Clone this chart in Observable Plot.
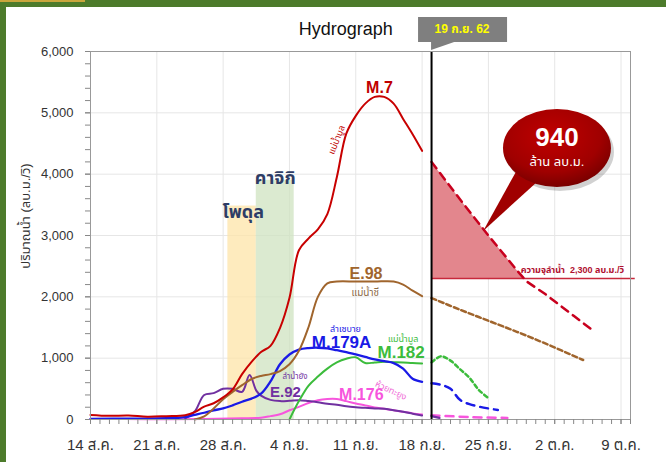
<!DOCTYPE html>
<html><head><meta charset="utf-8">
<script src="https://cdn.jsdelivr.net/npm/d3@7"></script>
<script src="https://cdn.jsdelivr.net/npm/@observablehq/plot@0.6"></script>
<style>
body{margin:0;background:#fff;}
#wrap{position:relative;width:666px;height:462px;overflow:hidden;background:#fff;}
#wrap svg{position:absolute;left:0;top:0;}
.bl{position:absolute;left:0;top:0;width:6px;height:462px;background:#4d7b2b;}
.bt{position:absolute;left:0;top:0;width:666px;height:7px;background:#4d7b2b;}
.bg{position:absolute;left:0;top:0;width:85px;height:2px;background:#c9a63c;}
</style></head><body><div id="wrap"></div>
<script>
// ---------- data ----------
const tickDates = ["08-14","08-21","08-28","09-04","09-11","09-18","09-25","10-02","10-09"];
const tickLabels = ["14 ส.ค.","21 ส.ค.","28 ส.ค.","4 ก.ย.","11 ก.ย.","18 ก.ย.","25 ก.ย.","2 ต.ค.","9 ต.ค."];
const yTicks = [0,1000,2000,3000,4000,5000,6000];
const todayDate = "09-19";
const capacity = 2300;

const m7Obs = [["08-14",75],["08-16",60],["08-18",65],["08-20",45],["08-22",55],["08-24",70],["08-25",120],["08-26",210],["08-27",265],["08-28",360],["08-29",490],["08-30",740],["08-31",940],["09-01",1100],["09-02",1200],["09-03",1490],["09-04",1980],["09-05",2760],["09-06",2950],["09-07",3100],["09-08",3350],["09-09",3950],["09-10",4660],["09-11",4950],["09-12",5150],["09-13",5260],["09-14",5260],["09-15",5150],["09-16",4900],["09-17",4650],["09-18",4380]];
const m7Fc = [["09-19",4200],["09-22",3590],["09-25",3000],["09-28",2435],["09-29",2255],["10-01",2045],["10-04",1690],["10-06",1455]];

const e98Obs = [["08-25",0],["08-26",50],["08-27",180],["08-28",330],["08-29",450],["08-30",560],["08-31",660],["09-01",710],["09-02",740],["09-03",790],["09-04",900],["09-05",1120],["09-06",1500],["09-07",2000],["09-08",2220],["09-09",2250],["09-11",2250],["09-13",2250],["09-15",2250],["09-16",2200],["09-17",2100],["09-18",2010]];
const e98Fc = [["09-19",1980],["09-22",1790],["09-25",1610],["09-28",1430],["10-01",1240],["10-05",970]];

const m179Obs = [["08-14",10],["08-18",15],["08-22",20],["08-24",40],["08-25",75],["08-26",110],["08-27",150],["08-28",180],["08-29",230],["08-30",290],["08-31",340],["09-01",420],["09-02",620],["09-03",900],["09-04",1060],["09-05",1140],["09-06",1165],["09-07",1170],["09-08",1160],["09-09",1130],["09-10",1100],["09-11",1060],["09-12",1020],["09-13",980],["09-14",950],["09-15",920],["09-16",830],["09-17",665],["09-18",615]];
const m179Fc = [["09-19",590],["09-20",565],["09-21",500],["09-22",320],["09-23",250],["09-24",210],["09-25",180],["09-26",155]];

const m182Obs = [["09-04",0],["09-05",300],["09-06",550],["09-07",700],["09-08",830],["09-09",930],["09-10",990],["09-11",1015],["09-12",920],["09-13",930],["09-14",940],["09-15",935],["09-16",930],["09-17",920],["09-18",915]];
const m182Fc = [["09-19",930],["09-20",1030],["09-21",960],["09-22",820],["09-23",680],["09-24",480],["09-25",350]];

const e92Obs = [["08-24",20],["08-25",130],["08-26",400],["08-27",430],["08-28",500],["08-29",500],["08-30",450],["08-30T19:00",725],["08-31T12:00",470],["09-01",390],["09-02",320],["09-03",300],["09-04",305],["09-05",315],["09-06",300],["09-07",280],["09-08",255],["09-09",240],["09-10",215],["09-11",200],["09-12",190],["09-13",180],["09-14",175],["09-15",150],["09-16",125],["09-17",95],["09-18",65]];
const e92Fc = [["09-19",55],["09-20",20]];

const m176Obs = [["08-14",10],["08-20",5],["08-26",10],["08-30",20],["09-01",30],["09-02",55],["09-03",85],["09-04",150],["09-05",205],["09-06",270],["09-07",315],["09-08",335],["09-09",335],["09-10",300],["09-11",260],["09-12",230],["09-13",195],["09-14",175],["09-15",150],["09-16",125],["09-17",100],["09-18",80]];
const m176Fc = [["09-19",70],["09-23",40],["09-27",25]];

const stormNames = ["โพดุล","คาจิกิ"];
const stormStart = ["08-28T12:00","08-31T12:00"];
const stormEnd = ["08-31T12:00","09-04T12:00"];
const stormTop = [3480,3900];

// ---------- helpers ----------
const d = s => new Date("2019-" + s + (s.length > 5 ? "Z" : "T00:00Z"));
const rows = arr => arr.map(([t, v]) => ({date: d(t), value: v}));
const labelMap = new Map(tickDates.map((t, i) => [+d(t), tickLabels[i]]));
const storms = stormNames.map((n, i) => ({name: n, x1: d(stormStart[i]), x2: d(stormEnd[i]), top: stormTop[i]}));

// fill area between M.7 forecast and capacity (above capacity)
const m7FcRows = rows(m7Fc);
const fillRows = [];
for (let i = 0; i < m7FcRows.length; i++) {
  const r = m7FcRows[i];
  if (r.value >= capacity) fillRows.push(r);
  else {
    const p = m7FcRows[i - 1];
    const f = (p.value - capacity) / (p.value - r.value);
    fillRows.push({date: new Date(+p.date + f * (r.date - p.date)), value: capacity});
    break;
  }
}

const FONT = "'Liberation Sans', Arial, 'Noto Sans Thai', 'Noto Sans', sans-serif";
const lab = (t, date, value, o = {}) => Plot.text([{x: d(date), y: value, t}], {x: "x", y: "y", text: "t", fontFamily: FONT, ...o});

function line(arr, color, o = {}) {
  return Plot.line(rows(arr), {x: "date", y: "value", stroke: color, strokeWidth: 2, curve: "catmull-rom", ...o});
}

function overlay(index, scales, values, dim) {
  const x = scales.x, y = scales.y;
  const g = d3.create("svg:g").attr("font-family", FONT);
  // y label
  g.append("text").attr("transform", "translate(27,216) rotate(-90)")
    .attr("text-anchor", "middle").attr("dominant-baseline", "middle")
    .attr("font-size", 13).attr("fill", "#333").text("ปริมาณน้ำ (ลบ.ม./วิ)");
  // title
  g.append("text").attr("x", x(d("09-10"))).attr("y", dim.marginTop - 16)
    .attr("text-anchor", "middle").attr("font-size", 18).attr("fill", "#111").text("Hydrograph");
  // date box
  const lx = x(d(todayDate)), top = dim.marginTop;
  g.append("rect").attr("x", lx - 13).attr("y", top - 34).attr("width", 89).attr("height", 25).attr("fill", "#7f7f7f");
  g.append("polygon").attr("points", `${lx},${top - 10} ${lx + 26},${top - 10} ${lx},${top - 1}`).attr("fill", "#7f7f7f");
  g.append("text").attr("x", lx + 31).attr("y", top - 21.5).attr("text-anchor", "middle").attr("dominant-baseline", "middle")
    .attr("font-size", 12).attr("font-weight", "bold").attr("fill", "#ffff00").text("19 ก.ย. 62");
  // callout
  const cx = x(d("10-02T07:00")), cy = y(4420);
  const tx = x(d("09-24T12:00")), ty = y(3065);
  const defs = g.append("defs");
  const rg = defs.append("radialGradient").attr("id", "cg").attr("cx", "45%").attr("cy", "35%").attr("r", "65%");
  rg.append("stop").attr("offset", "0%").attr("stop-color", "#c00000");
  rg.append("stop").attr("offset", "70%").attr("stop-color", "#a00000");
  rg.append("stop").attr("offset", "100%").attr("stop-color", "#7a0000");
  g.append("ellipse").attr("cx", cx + 3).attr("cy", cy + 4).attr("rx", 54).attr("ry", 39).attr("fill", "rgba(0,0,0,0.18)");
  g.append("polygon").attr("points", `${cx - 40},${cy + 22} ${cx - 20},${cy + 34} ${tx},${ty}`).attr("fill", "#a00000");
  g.append("ellipse").attr("cx", cx).attr("cy", cy).attr("rx", 54).attr("ry", 39).attr("fill", "url(#cg)");
  g.append("text").attr("x", cx).attr("y", cy - 9).attr("text-anchor", "middle").attr("dominant-baseline", "middle")
    .attr("font-size", 26).attr("font-weight", "bold").attr("fill", "#fff").text("940");
  g.append("text").attr("x", cx).attr("y", cy + 15).attr("text-anchor", "middle").attr("dominant-baseline", "middle")
    .attr("font-size", 13).attr("fill", "#fff").text("ล้าน ลบ.ม.");
  return g.node();
}

const chart = Plot.plot({
  width: 666, height: 462,
  marginLeft: 90, marginRight: 36, marginTop: 51, marginBottom: 43,
  style: {fontFamily: FONT, background: "white", overflow: "visible"},
  x: {type: "utc", domain: [d("08-14"), d("10-10")]},
  y: {domain: [0, 6000]},
  marks: [
    Plot.gridY(yTicks.slice(1), {stroke: "#e6e6e6", strokeOpacity: 1}),
    Plot.gridX(tickDates.map(d).slice(1), {stroke: "#e6e6e6", strokeOpacity: 1}),
    Plot.rectY(storms, {x1: "x1", x2: "x2", y1: 0, y2: "top", fill: (s, i) => i, fillOpacity: 0.75}),
    Plot.areaY(fillRows, {x: "date", y1: capacity, y2: "value", fill: "#e3868d"}),
    Plot.ruleY([capacity], {x1: d(todayDate), x2: d("10-10T12:00"), stroke: "#c8283c", strokeWidth: 1.5}),
    line(m176Obs, "#f755dd"),
    line(m176Fc, "#f755dd", {strokeDasharray: "8,6", strokeWidth: 2.5}),
    line(e92Obs, "#7030a0"),
    line(e92Fc, "#7030a0", {strokeDasharray: "8,6", strokeWidth: 2.5}),
    line(m182Obs, "#3cbc3c"),
    line(m182Fc, "#3cbc3c", {strokeDasharray: "4,3", strokeWidth: 2.5}),
    line(m179Obs, "#1a1ae6", {strokeWidth: 2.3}),
    line(m179Fc, "#1a1ae6", {strokeDasharray: "8,6", strokeWidth: 2.5}),
    line(e98Obs, "#a0652d"),
    line(e98Fc, "#a0652d", {strokeDasharray: "5,3", strokeWidth: 2.5}),
    line(m7Obs, "#c80000"),
    line(m7Fc, "#c8001e", {strokeDasharray: "8,6", strokeWidth: 2.5, curve: "linear"}),
    Plot.ruleX([d(todayDate)], {stroke: "black", strokeWidth: 2}),
    Plot.frame({stroke: "#999"}),
    Plot.axisY(d3.range(0, 6001, 200), {tickSize: 5, tickFormat: () => "", stroke: "#888"}),
    Plot.axisY(yTicks, {tickSize: 5, tickPadding: 12, tickFormat: d3.format(","), fontSize: 13, fill: "#333", stroke: "#888", label: null}),
    Plot.axisX(d3.utcDay.range(d("08-14"), d("10-11")), {tickSize: 5, tickFormat: () => "", stroke: "#888"}),
    Plot.axisX(tickDates.map(d), {tickSize: 5, tickPadding: 15, tickFormat: t => labelMap.get(+t), fontSize: 15, fill: "#333", stroke: "#888", label: null}),
    // storm labels
    lab("โพดุล", "08-30T03:00", 3376, {fontSize: 18, fontWeight: "bold", fill: "#2e3d66"}),
    lab("คาจิกิ", "09-02T12:00", 3930, {fontSize: 18, fontWeight: "bold", fill: "#2e3d66"}),
    // series labels
    lab("M.7", "09-13T12:00", 5400, {fontSize: 16, fontWeight: "bold", fill: "#c00000"}),
    lab("แม่น้ำมูล", "09-09", 4560, {fontSize: 9, fill: "#c00000", rotate: -68}),
    lab("E.98", "09-12T02:00", 2380, {fontSize: 16, fontWeight: "bold", fill: "#a0652d"}),
    lab("แม่น้ำชี", "09-12T00:00", 2070, {fontSize: 10, fill: "#8c6a48"}),
    lab("ลำเซบาย", "09-09T22:00", 1467, {fontSize: 9, fill: "#1a1ae6"}),
    lab("M.179A", "09-09T12:00", 1255, {fontSize: 17, fontWeight: "bold", fill: "#1a1ae6"}),
    lab("แม่น้ำมูล", "09-16", 1304, {fontSize: 9, fill: "#3cbc3c"}),
    lab("M.182", "09-15T19:00", 1092, {fontSize: 17, fontWeight: "bold", fill: "#3cbc3c"}),
    lab("ลำน้ำยัง", "09-04T14:00", 710, {fontSize: 8, fill: "#7030a0"}),
    lab("E.92", "09-03T14:00", 440, {fontSize: 15, fontWeight: "bold", fill: "#7030a0"}),
    lab("M.176", "09-11T14:00", 408, {fontSize: 16, fontWeight: "bold", fill: "#f755dd"}),
    lab("ห้วยทะยูง", "09-14T17:00", 473, {fontSize: 9, fill: "#f070d8", rotate: 25}),
    lab("ความจุลำน้ำ  2,300 ลบ.ม./วิ", "09-28T10:00", 2430, {fontSize: 9, fontWeight: "bold", fill: "#b01030", textAnchor: "start"}),
    overlay
  ],
  color: {type: "ordinal", domain: [0, 1], range: ["#fde4a8", "#cfe3c0"]}
});
const wrap = document.getElementById("wrap");
wrap.append(chart);
for (const c of ["bl", "bt", "bg"]) { const e = document.createElement("div"); e.className = c; wrap.append(e); }
</script></body></html>
